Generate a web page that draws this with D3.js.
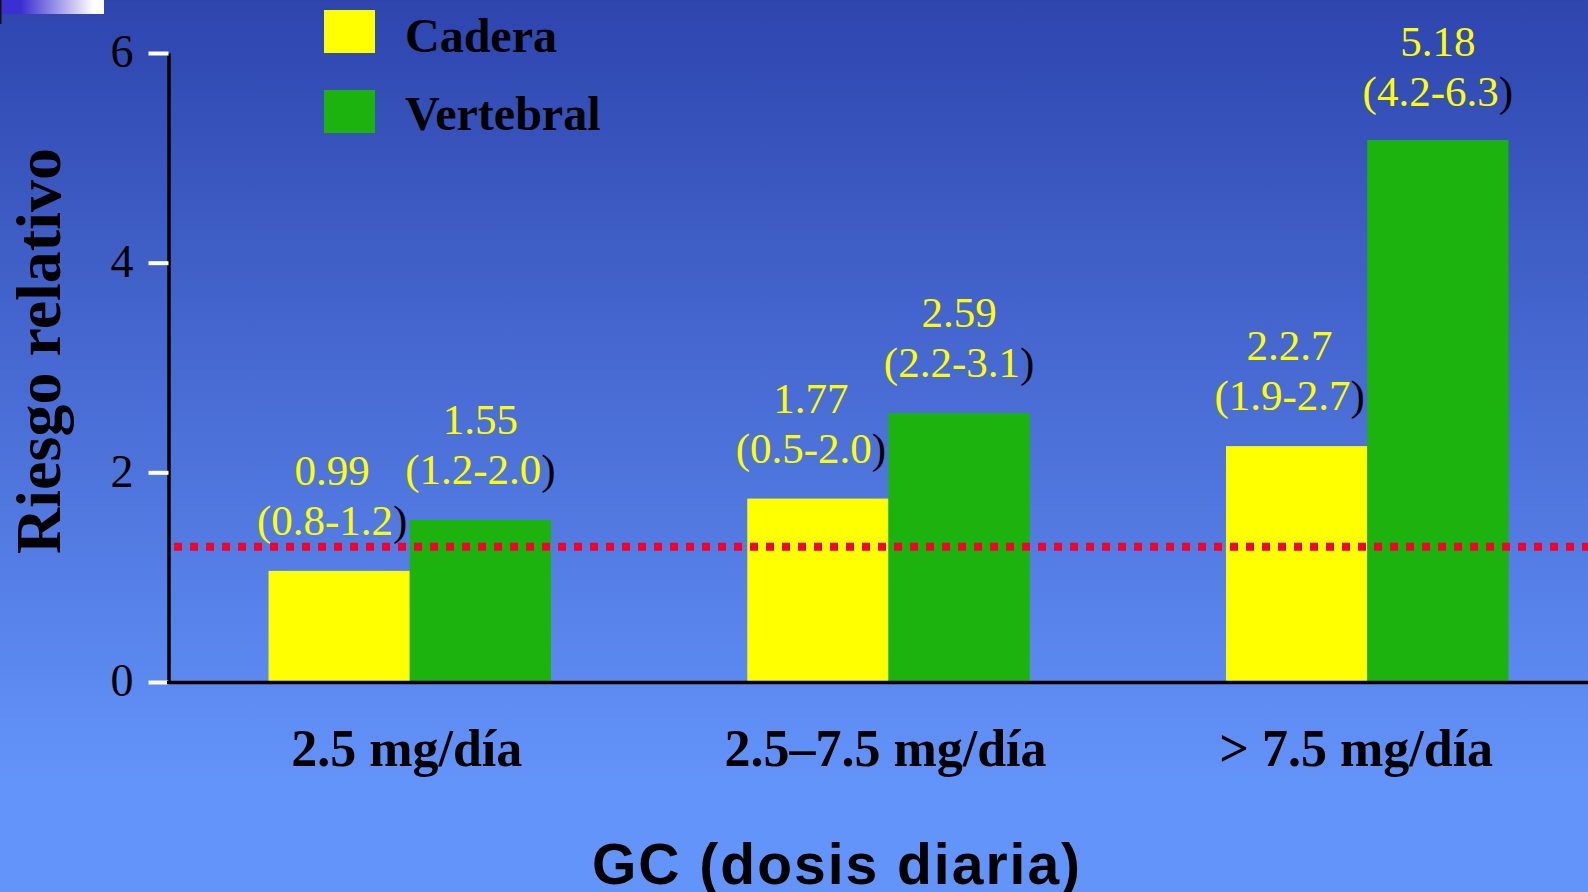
<!DOCTYPE html>
<html>
<head>
<meta charset="utf-8">
<script src="https://cdn.jsdelivr.net/npm/d3@7"></script>
<style>
  html, body { margin: 0; padding: 0; background: #6394fa; }
  svg { display: block; }
</style>
</head>
<body>
<svg id="chart" width="1588" height="892"></svg>
<script>
// ---- data ----
const categories = ["2.5 mg/día", "2.5–7.5 mg/día", "> 7.5 mg/día"];
const seriesNames = ["Cadera", "Vertebral"];
const caderaValues = [1.06, 1.75, 2.25];
const vertebralValues = [1.545, 2.565, 5.17];
const caderaLabels = ["0.99", "1.77", "2.2.7"];
const caderaCI = ["(0.8-1.2", "(0.5-2.0", "(1.9-2.7"];
const vertebralLabels = ["1.55", "2.59", "5.18"];
const vertebralCI = ["(1.2-2.0", "(2.2-3.1", "(4.2-6.3"];
const yTicks = [0, 2, 4, 6];
const referenceValue = 1.29;
const colors = { "Cadera": "#ffff00", "Vertebral": "#1db30f" };

const svg = d3.select("#chart");
const W = 1588, H = 892;

// background gradient
const defs = svg.append("defs");
const bg = defs.append("linearGradient").attr("id", "bg")
  .attr("x1", 0).attr("y1", 0).attr("x2", 0).attr("y2", 1);
bg.append("stop").attr("offset", "0").attr("stop-color", "#2e45ae");
bg.append("stop").attr("offset", "0.88").attr("stop-color", "#6394fa");
bg.append("stop").attr("offset", "1").attr("stop-color", "#6394fa");
svg.append("rect").attr("width", W).attr("height", H).attr("fill", "url(#bg)");

// top-left decorative block
const tl = defs.append("linearGradient").attr("id", "tl")
  .attr("x1", 0).attr("y1", 0).attr("x2", 1).attr("y2", 0);
tl.append("stop").attr("offset", "0.2").attr("stop-color", "#3a2fd0");
tl.append("stop").attr("offset", "0.9").attr("stop-color", "#ffffff");
svg.append("rect").attr("x", 0).attr("y", 0).attr("width", 104).attr("height", 14).attr("fill", "url(#tl)");
svg.append("rect").attr("x", 0).attr("y", 0).attr("width", 1.5).attr("height", 24).attr("fill", "#111");

// scales
const y = d3.scaleLinear().domain([0, 6]).range([682, 53]);
const x0 = d3.scaleBand().domain(categories).range([168, 1609]).paddingInner(0.41).paddingOuter(0.21);
const x1 = d3.scaleBand().domain(seriesNames).range([0, x0.bandwidth()]);

const data = categories.map((c, i) => ({
  cat: c,
  bars: [
    { s: "Cadera", v: caderaValues[i], l1: caderaLabels[i], l2: caderaCI[i], dx: -7 },
    { s: "Vertebral", v: vertebralValues[i], l1: vertebralLabels[i], l2: vertebralCI[i], dx: 0 }
  ]
}));

// bars
const groups = svg.append("g").selectAll("g").data(data).join("g")
  .attr("transform", d => `translate(${x0(d.cat)},0)`);
groups.selectAll("rect").data(d => d.bars).join("rect")
  .attr("x", d => x1(d.s))
  .attr("y", d => y(d.v))
  .attr("width", x1.bandwidth())
  .attr("height", d => y(0) - y(d.v))
  .attr("fill", d => colors[d.s]);

// value labels (kept below the top edge of the plot)
const serif = "'Liberation Serif', 'Times New Roman', serif";
const lab2Y = d => Math.max(y(d.v) - 36, 106);
groups.selectAll("text.v1").data(d => d.bars).join("text")
  .attr("class", "v1")
  .attr("x", d => x1(d.s) + x1.bandwidth() / 2 + d.dx)
  .attr("y", d => lab2Y(d) - 50)
  .attr("text-anchor", "middle")
  .attr("font-family", serif).attr("font-size", 43).attr("fill", "#ffff00")
  .text(d => d.l1);
const t2 = groups.selectAll("text.v2").data(d => d.bars).join("text")
  .attr("class", "v2")
  .attr("x", d => x1(d.s) + x1.bandwidth() / 2 + d.dx)
  .attr("y", d => lab2Y(d))
  .attr("text-anchor", "middle")
  .attr("font-family", serif).attr("font-size", 43).attr("fill", "#ffff00");
t2.append("tspan").text(d => d.l2);
t2.append("tspan").attr("fill", "#000").text(")");

// reference dotted line
svg.append("line")
  .attr("x1", 174).attr("x2", W)
  .attr("y1", y(referenceValue)).attr("y2", y(referenceValue))
  .attr("stroke", "#f2002e").attr("stroke-width", 8)
  .attr("stroke-dasharray", "8 8");

// y axis
const yAxis = svg.append("g").attr("transform", "translate(168.5,0)")
  .call(d3.axisLeft(y).tickValues(yTicks).tickFormat(d3.format("d")).tickSize(20).tickPadding(15).tickSizeOuter(0));
yAxis.select(".domain").attr("stroke", "#000").attr("stroke-width", 3.5);
yAxis.selectAll(".tick line").attr("stroke", "#fff").attr("stroke-width", 4);
yAxis.selectAll(".tick text").attr("font-family", serif).attr("font-size", 46).attr("fill", "#000").attr("dy", "0.3em");

// x axis baseline
svg.append("line").attr("x1", 167).attr("x2", W).attr("y1", 682.5).attr("y2", 682.5)
  .attr("stroke", "#000").attr("stroke-width", 3.5);

// category labels
svg.append("g").selectAll("text").data(categories).join("text")
  .attr("x", (d, i) => x0(d) + x0.bandwidth() / 2 - 3 - (i === categories.length - 1 ? 8 : 0))
  .attr("y", 766)
  .attr("text-anchor", "middle")
  .attr("font-family", serif).attr("font-weight", "bold").attr("font-size", 52).attr("fill", "#000")
  .text(d => d);

// legend
const legend = svg.append("g").selectAll("g").data(seriesNames).join("g")
  .attr("transform", (d, i) => `translate(324,${10 + i * 80})`);
legend.append("rect").attr("width", 51).attr("height", 43).attr("fill", d => colors[d]);
legend.append("text").attr("x", 81).attr("y", (d, i) => 42 - i * 2)
  .attr("font-family", serif).attr("font-weight", "bold").attr("font-size", 48).attr("fill", "#000")
  .text(d => d);

// axis titles
svg.append("text")
  .attr("transform", "translate(60,351) rotate(-90)")
  .attr("text-anchor", "middle")
  .attr("font-family", serif).attr("font-weight", "bold").attr("font-size", 64).attr("fill", "#000")
  .text("Riesgo relativo");

svg.append("text")
  .attr("x", 592).attr("y", 884)
  .attr("text-anchor", "start")
  .attr("font-family", "'Liberation Sans', Arial, sans-serif").attr("font-weight", "bold").attr("font-size", 57)
  .attr("letter-spacing", 2)
  .attr("fill", "#000")
  .text("GC (dosis diaria)");
</script>
</body>
</html>
